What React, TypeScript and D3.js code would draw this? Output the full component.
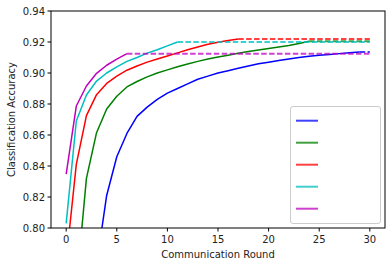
import { useEffect } from 'react';
import { scaleLinear, line, range } from 'd3';

// Accuracy per communication round for each run
const BLUE_START = 3;
const BLUE = [0.776, 0.821, 0.846, 0.861, 0.872, 0.878, 0.883, 0.887, 0.890, 0.893, 0.896, 0.898, 0.900, 0.9015, 0.903, 0.9045, 0.906, 0.907, 0.908, 0.909, 0.910, 0.9108, 0.9115, 0.912, 0.9125, 0.913, 0.9135];
const GREEN_START = 1;
const GREEN = [0.761, 0.832, 0.8615, 0.8768, 0.885, 0.891, 0.8945, 0.8975, 0.900, 0.902, 0.904, 0.9058, 0.9075, 0.909, 0.9103, 0.9115, 0.9127, 0.9138, 0.9148, 0.9158, 0.9168, 0.9178, 0.919, 0.9205];
const RED_START = 0;
const RED = [0.779, 0.841, 0.8725, 0.886, 0.8933, 0.898, 0.9018, 0.9045, 0.907, 0.909, 0.911, 0.913, 0.915, 0.9168, 0.9185, 0.9198, 0.921, 0.922];
const CYAN_START = 0;
const CYAN = [0.803, 0.869, 0.8858, 0.8948, 0.900, 0.904, 0.9075, 0.910, 0.9128, 0.915, 0.9175, 0.920];
const MAGENTA_START = 0;
const MAGENTA = [0.8348, 0.8787, 0.8916, 0.8998, 0.905, 0.909, 0.9125];

const LAST_ROUND = 30;
const X_TICKS = [0, 5, 10, 15, 20, 25, 30];
const Y_TICKS = [0.80, 0.82, 0.84, 0.86, 0.88, 0.90, 0.92, 0.94];

const series = [
    { color: '#0000ff', start: BLUE_START, values: BLUE },
    { color: '#008000', start: GREEN_START, values: GREEN },
    { color: '#ff0000', start: RED_START, values: RED },
    { color: '#00bfbf', start: CYAN_START, values: CYAN },
    { color: '#bf00bf', start: MAGENTA_START, values: MAGENTA },
];

function App() {
    // Set dimensions
    const width = 392;
    const height = 266;
    const left = 51;
    const right = 385;
    const top = 11;
    const bottom = 228;

    // Set scales
    const x = scaleLinear().domain([-1.5, 31.5]).range([left, right]);
    const y = scaleLinear().domain([0.8, 0.94]).range([bottom, top]);

    const path = line<[number, number]>()
        .x((d) => x(d[0]))
        .y((d) => y(d[1]));

    useEffect(() => {
        document.body.style.margin = '0';
    }, []);

    const font = 'DejaVu Sans, sans-serif';

    return (
        <svg width={width} height={height} style={{ display: 'block', background: '#fff' }}>
            <defs>
                <clipPath id="plot">
                    <rect x={left} y={top} width={right - left} height={bottom - top} />
                </clipPath>
            </defs>
            <g clipPath="url(#plot)">
                {series.map((s, i) => {
                    const pts = s.values.map((v, j) => [s.start + j, v] as [number, number]);
                    const last = pts[pts.length - 1];
                    return (
                        <g key={i}>
                            <path d={path(pts) || ''} fill="none" stroke={s.color} strokeWidth={1.5} strokeLinejoin="round" />
                            <path
                                d={path([last, [LAST_ROUND, last[1]]]) || ''}
                                fill="none"
                                stroke={s.color}
                                strokeOpacity={0.75}
                                strokeWidth={2}
                                strokeDasharray="5.5,2.4"
                            />
                        </g>
                    );
                })}
            </g>
            {/* Axes frame */}
            <rect x={left} y={top} width={right - left} height={bottom - top} fill="none" stroke="#000" strokeWidth={1} />
            {X_TICKS.map((t) => (
                <g key={t}>
                    <line x1={x(t)} x2={x(t)} y1={bottom} y2={bottom + 3.5} stroke="#000" />
                    <text x={x(t)} y={bottom + 15} textAnchor="middle" fontSize={10} fontFamily={font} fill="#222">
                        {t}
                    </text>
                </g>
            ))}
            {Y_TICKS.map((t) => (
                <g key={t}>
                    <line x1={left - 3.5} x2={left} y1={y(t)} y2={y(t)} stroke="#000" />
                    <text x={left - 6} y={y(t) + 3.5} textAnchor="end" fontSize={10} fontFamily={font} fill="#222">
                        {t.toFixed(2)}
                    </text>
                </g>
            ))}
            <text x={(left + right) / 2} y={258} textAnchor="middle" fontSize={10} fontFamily={font} fill="#222">
                Communication Round
            </text>
            <text
                transform={`translate(15, ${(top + bottom) / 2}) rotate(-90)`}
                textAnchor="middle"
                fontSize={10}
                fontFamily={font}
                fill="#222"
            >
                Classification Accuracy
            </text>
            {/* Legend with blank labels */}
            <rect x={290.5} y={106.5} width={90} height={117} rx={2.5} fill="#fff" fillOpacity={0.8} stroke="#ccc" />
            {range(series.length).map((i) => (
                <line
                    key={i}
                    x1={296}
                    x2={318}
                    y1={120.7 + i * 22}
                    y2={120.7 + i * 22}
                    stroke={series[i].color}
                    strokeOpacity={0.75}
                    strokeWidth={2}
                />
            ))}
        </svg>
    );
}

export default App;
